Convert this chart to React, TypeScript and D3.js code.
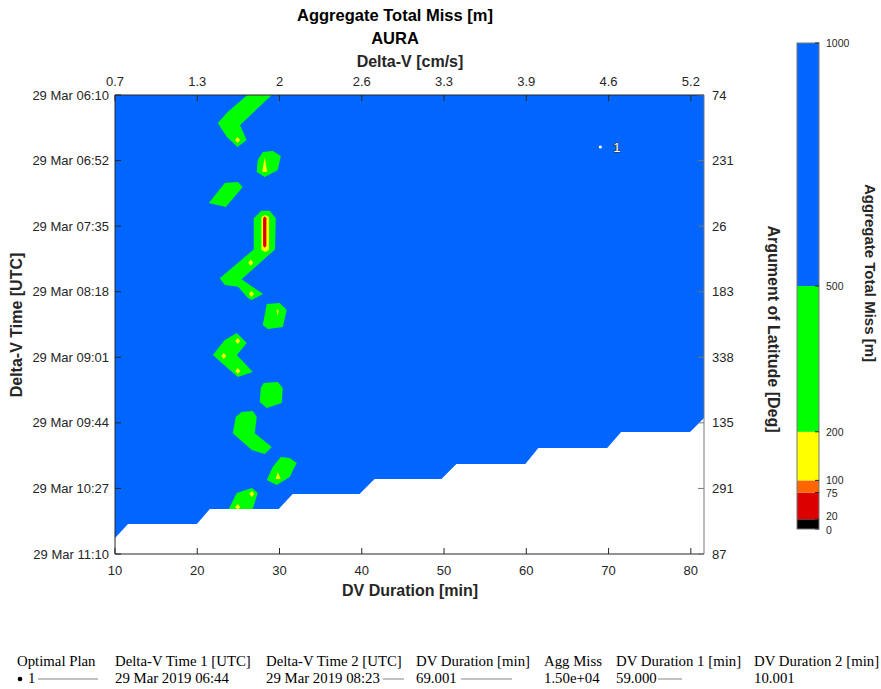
import React from "react";
import * as d3 from "d3";

// plot frame (px)
const W = 881, H = 689;
const plot = { left: 115, right: 704, top: 95, bottom: 554 };

// axes
const durationDomain = [10, 81.6];
const durationTicks = [10, 20, 30, 40, 50, 60, 70, 80];
const deltaVLabels = ["0.7", "1.3", "2", "2.6", "3.3", "3.9", "4.6", "5.2"];
const timeStart = Date.UTC(2019, 2, 29, 6, 10);
const timeSpanMin = 300;
const timeTickLabels = ["29 Mar 06:10", "29 Mar 06:52", "29 Mar 07:35", "29 Mar 08:18", "29 Mar 09:01", "29 Mar 09:44", "29 Mar 10:27", "29 Mar 11:10"];
const argLatLabels = ["74", "231", "26", "183", "338", "135", "291", "87"];

// colour levels [m]
const levels = [0, 20, 75, 100, 200, 500, 1000];
const levelColors = ["#000000", "#dd0000", "#ff6600", "#ffff00", "#00ff00", "#0066ff"];

// contour regions: [DV duration (min), minutes after 06:10]
const greenRegions: [number, number][][] = [
  [[26.1, 0], [29.05, 0], [25.2, 19.6], [26.0, 29.4], [24.9, 34.0], [23.6, 27.5], [22.5, 18.3], [23.7, 11.1]],
  [[27.96, 37.3], [29.17, 36.6], [30.15, 39.9], [29.78, 49.0], [28.2, 53.6], [27.23, 50.3], [27.35, 42.5]],
  [[23.35, 57.5], [24.93, 56.9], [25.53, 60.1], [23.47, 73.2], [21.41, 70.6]],
  [[27.8, 75.6], [28.81, 75.6], [29.54, 80.6], [29.45, 100.9], [25.38, 120.5], [28.0, 130.1], [26.59, 134.0], [26.18, 132.9], [24.96, 125.3], [23.35, 124.2], [22.74, 119.8], [26.87, 100.9], [26.87, 80.6]],
  [[28.45, 136.6], [30.02, 135.9], [30.87, 140.5], [30.39, 151.6], [28.57, 152.9], [27.96, 150.3]],
  [[23.35, 160.1], [24.81, 155.6], [26.02, 162.1], [24.81, 169.9], [26.75, 181.0], [24.93, 184.3], [21.89, 169.9]],
  [[28.08, 188.2], [29.78, 187.6], [30.39, 191.5], [30.27, 201.3], [28.45, 204.6], [27.6, 200.7], [27.72, 191.5]],
  [[25.41, 207.2], [26.75, 206.5], [27.23, 210.5], [26.99, 221.0], [29.05, 230.1], [28.2, 234.6], [26.63, 232.0], [24.32, 221.0], [24.68, 210.5]],
  [[30.15, 236.6], [31.24, 237.3], [32.09, 240.5], [31.24, 249.7], [29.66, 254.9], [28.45, 251.6], [29.17, 243.1]],
  [[24.81, 260.1], [26.63, 256.9], [27.35, 260.1], [26.5, 274.5], [23.47, 274.5]],
];
const yellowRegions: [number, number][][] = [
  [[28.2, 40.5], [28.5, 50.3], [27.9, 50.3]],
  [[27.8, 79.7], [28.26, 78.4], [28.73, 79.7], [28.73, 101.3], [28.26, 102.6], [27.8, 101.3]],
  [[29.65, 140.3], [29.9, 140.3], [29.78, 144.6]],
  [[29.78, 246.4], [30.15, 251.0], [29.54, 251.0]],
];
const redRegions: [number, number][][] = [
  [[28.0, 80.5], [28.2, 79.2], [28.4, 80.5], [28.4, 98.5], [28.2, 99.8], [28.0, 98.5]],
];
const yellowSpots: [number, number][] = [
  [24.9, 29.4], [26.5, 109.6], [26.59, 130.1], [24.93, 160.8], [23.23, 170.6], [24.93, 180.4], [24.93, 269.3], [26.63, 260.8],
];
// lower edge of the evaluated region (beyond it: no data)
const feasibleLimit: [number, number][] = [
  [10, 289.5], [11.58, 280.4], [19.95, 280.4], [21.53, 270.6], [29.9, 270.6], [31.6, 260.8], [39.73, 260.8], [41.55, 251.0],
  [49.68, 251.0], [51.5, 241.2], [59.88, 241.2], [61.46, 230.7], [69.83, 230.7], [71.53, 220.3], [79.9, 220.3], [81.6, 211.1],
];

// optimal plan
const optimalPlans = [{ id: "1", duration: 69.001, minute: 34 }];

// table under the chart
const tableHeaders = ["Optimal Plan", "Delta-V Time 1 [UTC]", "Delta-V Time 2 [UTC]", "DV Duration [min]", "Agg Miss", "DV Duration 1 [min]", "DV Duration 2 [min]"];
const tableValues = ["1", "29 Mar 2019 06:44", "29 Mar 2019 08:23", "69.001", "1.50e+04", "59.000", "10.001"];
const tableColX = [17, 115, 266, 416, 544, 616, 754];

const sans = "'Liberation Sans', Arial, Helvetica, sans-serif";
const serif = "'Liberation Serif', 'DejaVu Serif', serif";
const axisColor = "#262626";

export default function App() {
  const x = d3.scaleLinear().domain(durationDomain).range([plot.left, plot.right]);
  const y = d3.scaleUtc()
    .domain([new Date(timeStart), new Date(timeStart + timeSpanMin * 60000)])
    .range([plot.top, plot.bottom]);
  const tm = (m: number) => new Date(timeStart + m * 60000);
  const yTicks = timeTickLabels.map((_, i) => tm((i * timeSpanMin) / (timeTickLabels.length - 1)));
  const toPath = (pts: [number, number][]) =>
    d3.line<[number, number]>().x((p) => x(p[0])).y((p) => y(tm(p[1])))(pts) + "Z";

  const nanRegion: [number, number][] = [...feasibleLimit, [durationDomain[1], timeSpanMin], [durationDomain[0], timeSpanMin]];

  const cb = { left: 797, right: 819 };
  const c = d3.scaleLinear().domain([0, 1000]).range([529, 43]);
  // small nudges so the crowded bottom labels sit as in the figure
  const cbLabelDy: Record<number, number> = { 0: 4.5, 20: 1, 75: 4.8, 100: 3.6 };

  const tick = 6;

  return (
    <svg width={W} height={H} style={{ position: "absolute", left: 0, top: 0, background: "#fff" }} fontFamily={sans}>
      <defs>
        <clipPath id="plotClip">
          <rect x={plot.left} y={plot.top} width={plot.right - plot.left} height={plot.bottom - plot.top} />
        </clipPath>
      </defs>

      {/* titles */}
      <text x={395} y={21} textAnchor="middle" fontSize={16.5} fontWeight="bold" fill="#000">Aggregate Total Miss [m]</text>
      <text x={395} y={44} textAnchor="middle" fontSize={16.5} fontWeight="bold" fill="#000">AURA</text>
      <text x={410} y={67} textAnchor="middle" fontSize={16} fontWeight="bold" fill={axisColor}>Delta-V [cm/s]</text>

      {/* contour fill */}
      <g clipPath="url(#plotClip)">
        <rect x={plot.left} y={plot.top} width={plot.right - plot.left} height={plot.bottom - plot.top} fill={levelColors[5]} />
        {greenRegions.map((r, i) => <path key={"g" + i} d={toPath(r)} fill={levelColors[4]} />)}
        {yellowRegions.map((r, i) => <path key={"y" + i} d={toPath(r)} fill={levelColors[3]} />)}
        {redRegions.map((r, i) => <path key={"r" + i} d={toPath(r)} fill={levelColors[1]} />)}
        {yellowSpots.map((p, i) => {
          const cx = x(p[0]), cy = y(tm(p[1]));
          return <path key={"s" + i} d={`M${cx},${cy - 3}L${cx + 2.5},${cy}L${cx},${cy + 3}L${cx - 2.5},${cy}Z`} fill={levelColors[3]} />;
        })}
        <path d={toPath(nanRegion)} fill="#fff" />
      </g>

      {/* optimal plan marker */}
      {optimalPlans.map((p) => (
        <g key={p.id}>
          <circle cx={x(p.duration)} cy={y(tm(p.minute))} r={1.6} fill="#fff" />
          <text x={x(p.duration) + 13} y={y(tm(p.minute)) + 5} fontSize={13} fill="#fff" stroke="#333" strokeWidth={1.2} paintOrder="stroke">{p.id}</text>
        </g>
      ))}

      {/* axes box */}
      <g stroke={axisColor} strokeWidth={1} fill="none">
        <line x1={plot.left} x2={plot.left} y1={plot.top} y2={plot.bottom} />
        <line x1={plot.left} x2={plot.right} y1={plot.bottom} y2={plot.bottom} />
        <line x1={plot.left} x2={plot.right} y1={plot.top} y2={plot.top} />
        <line x1={plot.right} x2={plot.right} y1={plot.top} y2={plot.bottom} stroke="#777" />
        {durationTicks.map((d) => (
          <g key={"xt" + d}>
            <line x1={x(d)} x2={x(d)} y1={plot.bottom} y2={plot.bottom - tick} />
            <line x1={x(d)} x2={x(d)} y1={plot.top} y2={plot.top + tick} />
          </g>
        ))}
        {yTicks.map((t, i) => (
          <g key={"yt" + i}>
            <line x1={plot.left} x2={plot.left + tick} y1={y(t)} y2={y(t)} />
            <line x1={plot.right} x2={plot.right - tick} y1={y(t)} y2={y(t)} stroke="#777" />
          </g>
        ))}
      </g>

      {/* tick labels */}
      <g fontSize={13} fill={axisColor}>
        {durationTicks.map((d, i) => (
          <g key={"xl" + d}>
            <text x={x(d)} y={575} textAnchor="middle">{d}</text>
            <text x={x(d)} y={86} textAnchor="middle">{deltaVLabels[i]}</text>
          </g>
        ))}
        {yTicks.map((t, i) => (
          <g key={"yl" + i}>
            <text x={plot.left - 6} y={y(t) + 4.5} textAnchor="end">{timeTickLabels[i]}</text>
            <text x={plot.right + 8} y={y(t) + 4.5}>{argLatLabels[i]}</text>
          </g>
        ))}
      </g>

      {/* axis labels */}
      <text x={410} y={596} textAnchor="middle" fontSize={16} fontWeight="bold" fill={axisColor}>DV Duration [min]</text>
      <text transform={`translate(22,325) rotate(-90)`} textAnchor="middle" fontSize={16} fontWeight="bold" fill={axisColor}>Delta-V Time [UTC]</text>
      <text transform={`translate(768,329) rotate(90)`} textAnchor="middle" fontSize={16} fontWeight="bold" fill={axisColor}>Argument of Latitude [Deg]</text>

      {/* colorbar */}
      {levelColors.map((col, i) => (
        <rect key={"cb" + i} x={cb.left} y={c(levels[i + 1])} width={cb.right - cb.left} height={c(levels[i]) - c(levels[i + 1])} fill={col} />
      ))}
      <rect x={cb.left} y={c(1000)} width={cb.right - cb.left} height={c(0) - c(1000)} fill="none" stroke="#777" strokeWidth={1} />
      <g stroke={axisColor} strokeWidth={1}>
        {levels.map((l) => <line key={"cbt" + l} x1={cb.right - 4} x2={cb.right} y1={c(l)} y2={c(l)} />)}
      </g>
      <g fontSize={10.5} fill={axisColor}>
        {levels.map((l) => (
          <text key={"cbl" + l} x={cb.right + 7} y={c(l) + (cbLabelDy[l] ?? 4)}>{l}</text>
        ))}
      </g>
      <text transform={`translate(865,273) rotate(90)`} textAnchor="middle" fontSize={15} fontWeight="bold" fill={axisColor}>Aggregate Total Miss [m]</text>

      {/* table */}
      <g fontFamily={serif} fontSize={14.8} fill="#000">
        {tableHeaders.map((h, i) => <text key={"th" + i} x={tableColX[i]} y={666}>{h}</text>)}
        <circle cx={tableColX[0] + 3} cy={679} r={2.3} fill="#000" />
        <text x={tableColX[0] + 11} y={683}>{tableValues[0]}</text>
        {tableValues.slice(1).map((v, i) => <text key={"tv" + i} x={tableColX[i + 1]} y={683}>{v}</text>)}
        <g stroke="#666" strokeWidth={0.8}>
          <line x1={38} x2={98} y1={679} y2={679} />
          <line x1={383} x2={404} y1={679} y2={679} />
          <line x1={461} x2={512} y1={679} y2={679} />
          <line x1={658} x2={682} y1={679} y2={679} />
        </g>
      </g>
    </svg>
  );
}
